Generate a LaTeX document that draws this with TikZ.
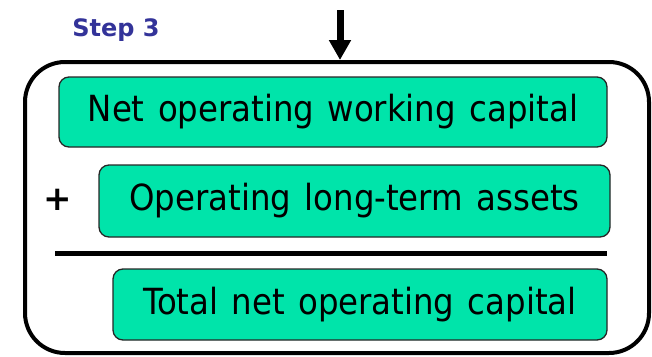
\documentclass[tikz,border=0pt]{standalone}
\usepackage{fontspec}
\setmainfont{DejaVu Sans}
\newfontfamily\boxfont[WordSpace=1.3]{DejaVu Sans Condensed}
\usetikzlibrary{arrows.meta}
\definecolor{boxgreen}{RGB}{0,228,170}
\definecolor{stepblue}{RGB}{51,51,153}
\tikzset{
  itembox/.style={draw=black!85,line width=1.3pt,fill=boxgreen,rounded corners=10pt,
    inner sep=0pt,font=\boxfont\fontsize{36}{40}\selectfont},
  framebox/.style={draw,line width=4pt,rounded corners=40pt,inner sep=0pt}
}
\begin{document}
\begin{tikzpicture}[x=1pt,y=-1pt]
\useasboundingbox (0,0) rectangle (652,356);
\node[framebox,minimum width=624pt,minimum height=291pt] (frame) at (337,207.5) {};
\coordinate (top) at (340,10);
\draw[line width=7pt,-{Triangle[width=21pt,length=20pt]}] (top) -- (top |- frame.north);
\node[text=stepblue,font=\bfseries\fontsize{24}{28}\selectfont] (step) at (116,30) {Step 3};
\node[itembox,minimum width=548pt,minimum height=70pt] (nowc) at (333,112) {Net operating working capital};
\node[itembox,minimum width=511pt,minimum height=72pt] (olta) at (354.5,201) {Operating long-term assets};
\node[font=\bfseries\fontsize{34}{38}\selectfont] (plus) at (58,200) {+};
\coordinate (rulel) at (55,253);
\coordinate (ruler) at (607,253);
\draw[line width=5pt] (rulel) -- (ruler);
\node[itembox,minimum width=494pt,minimum height=71pt] (tnoc) at (360,304.5) {Total net operating capital};
\end{tikzpicture}
\end{document}
